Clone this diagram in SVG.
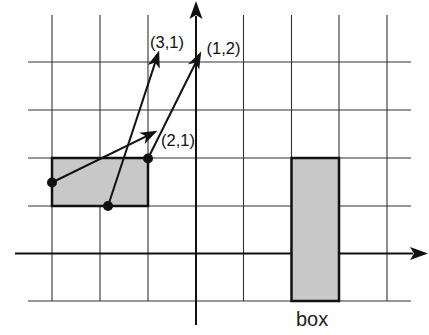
<svg xmlns="http://www.w3.org/2000/svg" width="429" height="335" viewBox="0 0 429 335">
<defs>
<style>
.grid{stroke:#333;stroke-width:1.1;fill:none}
.axis{stroke:#111;stroke-width:2;fill:none}
.box{fill:#c8c8c8;stroke:#111;stroke-width:2.5}
.vec{stroke:#111;stroke-width:2;fill:none}
.dot{fill:#111}
.lbl{font-family:"Liberation Sans",Arial,sans-serif;font-size:16.5px;fill:#111}
.big{font-family:"Liberation Sans",Arial,sans-serif;font-size:20px;fill:#222}
.head{fill:#111}
</style>
<marker id="ah" markerUnits="userSpaceOnUse" markerWidth="24" markerHeight="24" viewBox="-17 -8 21 16" refX="-3" refY="0" orient="auto">
<path d="M0,0 L-15,-5.5 L-11,0 L-15,5.5 Z" fill="#111"/>
</marker>
</defs>
<rect width="429" height="335" fill="#fff"/>
<g id="grid">
<path class="grid" d="M52,15V301 M100,15V301 M148,15V301 M243.5,15V301 M291.5,15V301 M339,15V301 M387,15V301"/>
<path class="grid" d="M28,62H411 M28,110H411 M28,158H411 M28,206H411 M28,301H411"/>
</g>
<g id="axes">
<path class="axis" d="M196,325V16"/>
<path class="head" d="M196,1 L202.5,19 L196,15 L189.5,19 Z"/>
<path class="axis" d="M15,253.5H413"/>
<path class="head" d="M428,253.5 L410,247 L414,253.5 L410,260 Z"/>
</g>
<g id="box-left">
<rect class="box" x="52" y="158" width="96" height="48"/>
</g>
<g id="box-right">
<rect class="box" x="291.5" y="158" width="47.5" height="143"/>
<text class="big" x="296" y="326">box</text>
</g>
<g id="connectors">
<line class="vec" x1="52" y1="182.5" x2="154.3" y2="132.3" marker-end="url(#ah)"/>
<line class="vec" x1="108" y1="206" x2="158.06" y2="53.85" marker-end="url(#ah)"/>
<line class="vec" x1="148" y1="158.5" x2="199.66" y2="54.68" marker-end="url(#ah)"/>
</g>
<g id="points">
<circle class="dot" cx="52" cy="182.5" r="5"/>
<circle class="dot" cx="108" cy="206" r="5"/>
<circle class="dot" cx="148" cy="158.5" r="5"/>
</g>
<g id="labels">
<text class="lbl" x="150" y="48">(3,1)</text>
<text class="lbl" x="206.5" y="54">(1,2)</text>
<text class="lbl" x="161" y="146">(2,1)</text>
</g>
</svg>
